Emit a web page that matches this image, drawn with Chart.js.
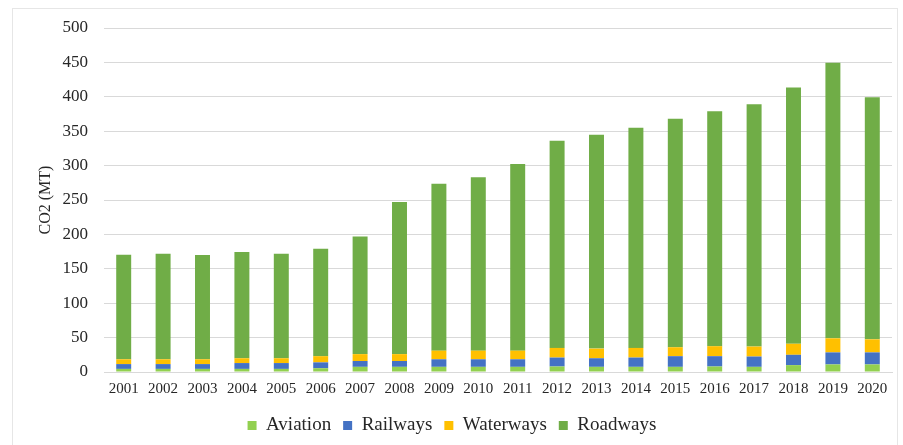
<!DOCTYPE html>
<html>
<head>
<meta charset="utf-8">
<script src="https://cdn.jsdelivr.net/npm/chart.js@4"></script>
<style>
  html, body { margin: 0; padding: 0; background: #fff; }
  #wrap { position: relative; width: 903px; height: 445px; }
  #frame { position: absolute; left: 12px; top: 8px; width: 886px; height: 445px; border: 1px solid #e6e6e6; box-sizing: border-box; }
  canvas { position: absolute; left: 0; top: 0; }
</style>
</head>
<body>
<div id="wrap">
  <div id="frame"></div>
  <canvas id="co2Chart" width="903" height="445"></canvas>
</div>
<script>
const years = ['2001', '2002', '2003', '2004', '2005', '2006', '2007', '2008', '2009', '2010',
  '2011', '2012', '2013', '2014', '2015', '2016', '2017', '2018', '2019', '2020'];

const aviation = [4.5, 4.5, 4.5, 4.5, 4.5, 5.5, 7.5, 7.5, 7.5, 7.5, 7.5, 8, 7.5, 7.5, 7.5, 8, 7.5, 10, 11, 11];
const railways = [7, 7, 7, 8.5, 8.5, 8.5, 8.5, 8.5, 11, 11, 11, 13, 12.5, 13.5, 15.5, 15, 15, 15, 17.5, 17.5];
const waterways = [7, 7, 7, 7, 7, 9, 10, 10, 12.5, 12.5, 12.5, 14, 14, 14, 13, 14.5, 14.5, 16, 20.5, 19];
const roadways = [152, 153.5, 151.5, 154.5, 152, 156, 171, 221, 242.5, 252, 271.5, 301, 311, 320, 332, 341.5, 352, 372.5, 400.5, 352];

const yTicks = [0, 50, 100, 150, 200, 250, 300, 350, 400, 450, 500];

const serif = "'Liberation Serif', 'DejaVu Serif', serif";

const ctx = document.getElementById('co2Chart').getContext('2d');

const co2Chart = new Chart(ctx, {
  type: 'bar',
  data: {
    labels: years,
    datasets: [
      { label: 'Aviation', data: aviation, backgroundColor: '#92D050' },
      { label: 'Railways', data: railways, backgroundColor: '#4472C4' },
      { label: 'Waterways', data: waterways, backgroundColor: '#FFC000' },
      { label: 'Roadways', data: roadways, backgroundColor: '#70AD47' }
    ]
  },
  options: {
    responsive: false,
    animation: false,
    layout: { padding: { left: 12, right: 11, top: 28, bottom: 0 } },
    datasets: {
      bar: { barPercentage: 1, categoryPercentage: 0.38, borderWidth: 0 }
    },
    plugins: {
      tooltip: { enabled: false },
      legend: {
        position: 'bottom',
        labels: {
          color: '#262626',
          font: { family: serif, size: 19 },
          boxWidth: 9,
          boxHeight: 9,
          padding: 12,
          useBorderRadius: false
        }
      }
    },
    scales: {
      x: {
        stacked: true,
        grid: { display: false },
        border: { display: true, color: '#d9d9d9', width: 1 },
        ticks: {
          color: '#262626',
          font: { family: serif, size: 15 },
          maxRotation: 0,
          autoSkip: false,
          padding: 0
        },
        afterFit: (scale) => { scale.height = 32; }
      },
      y: {
        stacked: true,
        min: 0,
        max: 500,
        afterBuildTicks: (scale) => { scale.ticks = yTicks.map(v => ({ value: v })); },
        grid: { color: '#d9d9d9', drawTicks: false },
        border: { display: false },
        ticks: {
          color: '#262626',
          font: { family: serif, size: 17 },
          padding: 16
        },
        title: {
          display: true,
          text: 'CO2 (MT)',
          color: '#262626',
          font: { family: serif, size: 16, weight: 'normal' },
          padding: { top: 24, bottom: 4 }
        },
        afterFit: (scale) => { scale.width = 92; }
      }
    }
  }
});
</script>
</body>
</html>
